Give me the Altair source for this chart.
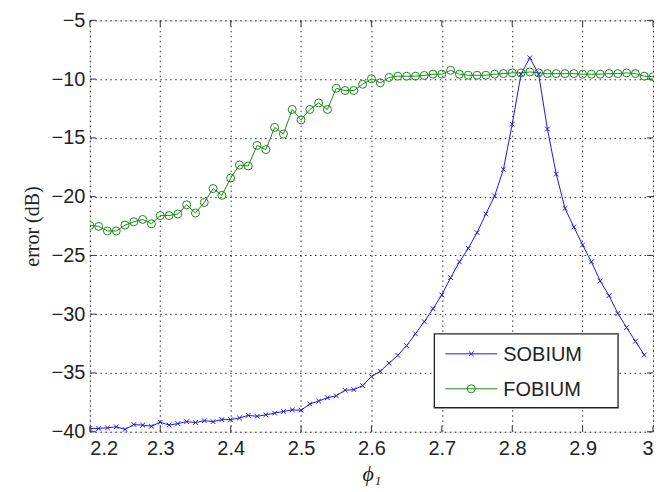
import altair as alt
import pandas as pd

# ---- data ----
phi = [round(2.2 + 0.0125 * k, 4) for k in range(65)]

fobium = [-22.45, -22.53, -22.92, -22.92, -22.42, -22.14, -21.94, -22.31,
          -21.61, -21.61, -21.47, -20.69, -21.39, -20.50, -19.31, -19.89,
          -18.42, -17.31, -17.39, -15.64, -16.00, -14.11, -14.67, -12.58,
          -13.47, -12.58, -12.03, -12.58, -10.78, -10.97, -10.97, -10.44,
          -9.97, -10.31, -9.86, -9.75, -9.75, -9.75, -9.69, -9.58,
          -9.58, -9.25, -9.58, -9.67, -9.67, -9.67, -9.58, -9.53,
          -9.47, -9.47, -9.39, -9.47, -9.53, -9.53, -9.53, -9.53,
          -9.58, -9.58, -9.58, -9.53, -9.53, -9.47, -9.53, -9.75, -9.80]

sobium = [-39.72, -39.72, -39.67, -39.58, -39.81, -39.39, -39.44, -39.53,
          -39.19, -39.44, -39.31, -39.14, -39.22, -39.06, -39.14, -38.97,
          -38.97, -38.83, -38.61, -38.69, -38.56, -38.42, -38.28, -38.14,
          -38.17, -37.64, -37.39, -37.11, -36.94, -36.47, -36.42, -36.08,
          -35.31, -34.86, -34.17, -33.50, -32.67, -31.67, -30.64, -29.53,
          -28.36, -26.89, -25.55, -24.39, -23.06, -21.47, -19.94, -17.67,
          -13.83, -9.58, -8.19, -9.58, -14.25, -18.08, -21.00, -22.58,
          -24.11, -25.55, -27.17, -28.42, -29.94, -31.14, -32.31, -33.47]

x_ticks = [2.2, 2.3, 2.4, 2.5, 2.6, 2.7, 2.8, 2.9, 3.0]
y_ticks = [-40, -35, -30, -25, -20, -15, -10, -5]
series_names = ["SOBIUM", "FOBIUM"]

W, H = 564, 412
BLUE = "#1a1ae6"
GREEN = "#1a8a1a"
XPATH = "M-1,-1L1,1M-1,1L1,-1"

df_s = pd.DataFrame({"phi": phi[:len(sobium)], "err": sobium})
df_f = pd.DataFrame({"phi": phi, "err": fobium})

xs = alt.Scale(domain=[2.2, 3.0], nice=False, zero=False)
ys = alt.Scale(domain=[-40, -5], nice=False, zero=False)

grid_common = dict(grid=True, gridColor="#000000", gridDash=[1.5, 3.5],
                   gridOpacity=0.85, gridWidth=1, domain=False, ticks=False,
                   labelFont="Liberation Sans", labelFontSize=20,
                   labelColor="#222222", titleColor="#222222")

x_enc = alt.X("phi:Q", scale=xs,
              axis=alt.Axis(values=x_ticks, title="ϕ₁", labelPadding=7,
                            titleFont="Liberation Serif", titleFontSize=22,
                            titleFontStyle="italic", titleFontWeight="normal",
                            titlePadding=5,
                            labelExpr="datum.value == 3 ? '3' : format(datum.value, '.1f')",
                            **grid_common))
y_enc = alt.Y("err:Q", scale=ys,
              axis=alt.Axis(values=y_ticks, title="error (dB)", labelPadding=5,
                            titleFont="Liberation Serif", titleFontSize=20,
                            titleFontWeight="normal", titlePadding=9,
                            labelExpr="replace(format(datum.value, 'd'), '-', '\u2212')",
                            **grid_common))

s_line = alt.Chart(df_s).mark_line(color=BLUE, strokeWidth=1, clip=True).encode(x=x_enc, y=y_enc)
s_pts = alt.Chart(df_s).mark_point(shape=XPATH, size=22, color=BLUE, strokeWidth=1,
                                   filled=False, opacity=1, clip=True).encode(x="phi:Q", y="err:Q")
f_line = alt.Chart(df_f).mark_line(color=GREEN, strokeWidth=1, clip=True).encode(x="phi:Q", y="err:Q")
f_pts = alt.Chart(df_f).mark_point(shape="circle", size=64, color=GREEN, strokeWidth=1,
                                   filled=False, opacity=1, clip=True).encode(x="phi:Q", y="err:Q")

# inward ticks (MATLAB style)
tx = pd.DataFrame({"phi": x_ticks})
ty = pd.DataFrame({"err": y_ticks})
tick_style = dict(color="#333333", strokeWidth=1)
bt = alt.Chart(tx).mark_rule(**tick_style).encode(x="phi:Q", y=alt.value(H), y2=alt.value(H - 6))
tt = alt.Chart(tx).mark_rule(**tick_style).encode(x="phi:Q", y=alt.value(0), y2=alt.value(6))
lt = alt.Chart(ty).mark_rule(**tick_style).encode(y="err:Q", x=alt.value(0), x2=alt.value(6))
rt = alt.Chart(ty).mark_rule(**tick_style).encode(y="err:Q", x=alt.value(W), x2=alt.value(W - 6))

# legend box (pixel layout inside the plot area)
LX0, LX1, LY0, LY1 = 345, 529, 314, 388
leg_df = pd.DataFrame({"name": series_names})
box = alt.Chart(leg_df.head(1)).mark_rect(fill="white", stroke="#222222", strokeWidth=1.3).encode(
    x=alt.value(LX0), x2=alt.value(LX1), y=alt.value(LY0), y2=alt.value(LY1))
rows = [(series_names[0], BLUE, XPATH, 22, 334), (series_names[1], GREEN, "circle", 64, 369)]
leg_layers = [box]
for name, col, shp, sz, yy in rows:
    d = pd.DataFrame({"name": [name]})
    leg_layers.append(alt.Chart(d).mark_rule(color=col, strokeWidth=1).encode(
        x=alt.value(356), x2=alt.value(408), y=alt.value(yy)))
    leg_layers.append(alt.Chart(d).mark_point(shape=shp, size=sz, color=col, filled=False,
                                              opacity=1, strokeWidth=1).encode(
        x=alt.value(382), y=alt.value(yy)))
    leg_layers.append(alt.Chart(d).mark_text(align="left", baseline="middle", font="Liberation Sans",
                                             fontSize=20, color="#222222").encode(
        x=alt.value(414), y=alt.value(yy + 1), text="name:N"))

chart = alt.layer(s_line, f_line, s_pts, f_pts, bt, tt, lt, rt, *leg_layers).properties(
    width=W, height=H,
    autosize=alt.AutoSizeParams(type="none"),
    padding={"left": 82, "top": 12, "right": 10, "bottom": 60},
).configure_view(stroke="#333333", strokeWidth=1.3).configure(background="white")

chart.save("out.html", embed_options={"renderer": "svg", "actions": False})
